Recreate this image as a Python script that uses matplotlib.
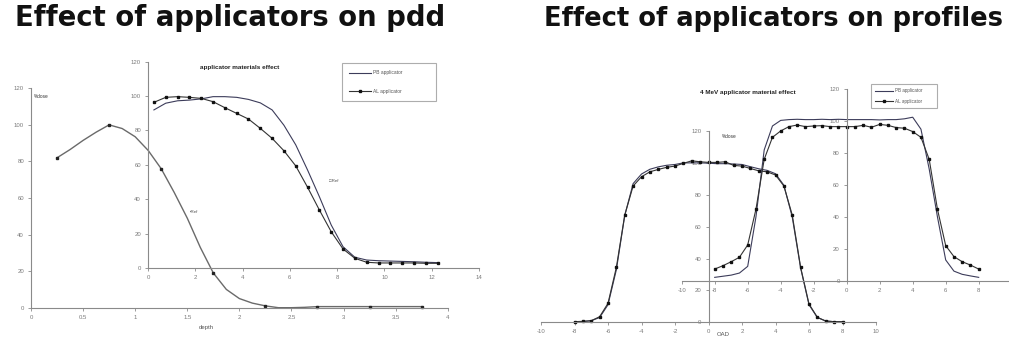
import matplotlib
matplotlib.use("Agg")
import matplotlib.pyplot as plt
from matplotlib.ticker import MultipleLocator, FuncFormatter

# ---------------- data ----------------
# back pdd chart (depth 0-4)
pdd_back_depth = [0.25, 0.375, 0.5, 0.625, 0.75, 0.875, 1.0, 1.125, 1.25, 1.375, 1.5,
                  1.625, 1.75, 1.875, 2.0, 2.125, 2.25, 2.375, 2.5, 2.625, 2.75, 3.0,
                  3.25, 3.5, 3.75]
pdd_back_dose = [82, 86.5, 91.5, 96, 100, 98, 93.5, 86, 76, 63, 49,
                 33, 19, 10, 5, 2.5, 1, 0, 0, 0.2, 0.6, 0.6,
                 0.6, 0.6, 0.6]
pdd_back_marker_idx = [0, 4, 8, 12, 16, 20, 22, 24]

# front pdd chart "applicator materials effect"
pdd_depth = [0.25, 0.75, 1.25, 1.75, 2.25, 2.75, 3.25, 3.75, 4.25, 4.75, 5.25, 5.75,
             6.25, 6.75, 7.25, 7.75, 8.25, 8.75, 9.25, 9.75, 10.25, 10.75, 11.25,
             11.75, 12.25]
pdd_pb = [91.9, 95.8, 97.2, 97.6, 98.3, 99.6, 99.6, 99.2, 98.0, 96.0, 91.9, 83.0,
          71.6, 57.0, 41.5, 25.1, 12.5, 6.4, 4.8, 4.4, 4.2, 4.0, 3.8, 3.5, 3.3]
pdd_al = [96.3, 99.2, 99.6, 99.2, 98.6, 96.7, 93.2, 89.9, 86.6, 81.2, 75.4, 68.2,
          59.4, 47.0, 33.8, 21.2, 11.2, 5.8, 3.5, 3.1, 3.1, 3.1, 3.1, 2.9, 2.9]

# profiles
oad = [-8, -7.5, -7, -6.5, -6, -5.5, -5, -4.5, -4, -3.5, -3, -2.5, -2, -1.5, -1, -0.5,
       0, 0.5, 1, 1.5, 2, 2.5, 3, 3.5, 4, 4.5, 5, 5.5, 6, 6.5, 7, 7.5, 8]
prof_back_al = [0.4, 0.6, 1.0, 3.5, 11.9, 34.5, 67.3, 85.5, 91.3, 94.4, 95.9, 97.2, 98.0,
                99.7, 101.3, 100.7, 100.3, 100.3, 100.7, 98.4, 98.0, 96.5, 95.0, 94.4,
                92.4, 85.5, 67.3, 34.5, 11.5, 3.1, 0.8, 0.4, 0.4]
prof_back_pb = [0.3, 0.5, 1.0, 3.0, 11.0, 33.0, 67.0, 87.0, 93.0, 96.0, 97.5, 98.5, 99.0,
                100.0, 100.0, 100.0, 99.8, 99.5, 99.5, 99.3, 99.0, 97.6, 96.3, 95.3,
                93.2, 86.0, 66.0, 34.0, 11.0, 3.0, 0.8, 0.4, 0.4]
prof_front_al = [7.3, 9.4, 11.9, 14.7, 22.4, 44.8, 76.1, 89.9, 93.9, 96.6, 97.6, 96.6, 97.0,
                 97.2, 96.6, 96.6, 96.6, 96.6, 97.4, 96.2, 98.0, 97.4, 96.0, 95.6, 93.5,
                 89.9, 76.1, 44.8, 22.0, 15.1, 11.9, 9.8, 7.3]
prof_front_pb = [2.1, 2.8, 3.5, 4.8, 9.0, 40.0, 82.0, 97.0, 100.5, 101.0, 101.2, 101.0, 101.0,
                 101.2, 101.0, 101.2, 101.0, 101.0, 101.0, 101.0, 100.8, 101.0, 101.0, 101.5,
                 102.5, 95.0, 70.0, 40.0, 13.0, 6.0, 4.0, 3.0, 2.1]

series_labels = ["PB applicator", "AL applicator"]

# ---------------- figure ----------------
W, H = 1009, 338
fig = plt.figure(figsize=(W / 100, H / 100), dpi=100)
fig.patch.set_facecolor("white")

SMALL = ["Liberation Sans", "DejaVu Sans"]
AXC = "#8a8a8a"
LBL = "#7a7a7a"
PB_C = "#3c3c5a"
AL_C = "#333333"


def add_ax(x0, x1, ytop, ybot):
    return fig.add_axes([x0 / W, 1 - ybot / H, (x1 - x0) / W, (ybot - ytop) / H])


def style(ax, xlim, ylim, xstep, center=False, hide_x=()):
    ax.set_xlim(*xlim)
    ax.set_ylim(*ylim)
    ax.patch.set_alpha(0)
    for s in ("top", "right"):
        ax.spines[s].set_visible(False)
    for s in ("left", "bottom"):
        ax.spines[s].set_color(AXC)
        ax.spines[s].set_linewidth(0.8)
    if center:
        ax.spines["left"].set_position(("data", 0))
    ax.xaxis.set_major_locator(MultipleLocator(xstep))
    ax.yaxis.set_major_locator(MultipleLocator(20))
    ax.xaxis.set_major_formatter(
        FuncFormatter(lambda v, p: "" if round(v, 3) in hide_x else "%g" % v))
    ax.tick_params(direction="out", length=2.5, width=0.6, color=AXC,
                   labelsize=4.3, labelcolor=LBL, pad=2.5)
    for t in ax.get_xticklabels() + ax.get_yticklabels():
        t.set_family(SMALL)


# ---------- back pdd ----------
ax1 = add_ax(31, 447.7, 88.3, 307.7)
style(ax1, (0, 4), (0, 120), 0.5)
ax1.plot(pdd_back_depth, pdd_back_dose, color="#6a6a6a", lw=1.0,
         marker="s", ms=1.8, mfc="#222222", mec="#222222",
         markevery=pdd_back_marker_idx, clip_on=False)
fig.text(34 / W, 1 - 96 / H, "%dose", fontsize=3.4, family=SMALL,
         color="#333333", va="center", ha="left")
fig.text(206.7 / W, 1 - 327.7 / H, "depth", fontsize=4.3, family=SMALL,
         color="#555555", ha="center", va="center")
fig.text(190 / W, 1 - 211.7 / H, "\u25aaRef", fontsize=3.2, family=SMALL,
         color="#555555", ha="left", va="center")

# ---------- front pdd ----------
ax2 = add_ax(148, 479, 61.5, 268.3)
style(ax2, (0, 14), (0, 120), 2)
l1, = ax2.plot(pdd_depth, pdd_pb, color=PB_C, lw=0.8, clip_on=False)
l2, = ax2.plot(pdd_depth, pdd_al, color=AL_C, lw=0.8, marker="s", ms=1.8,
               mfc="#111111", mec="#111111", clip_on=False)
fig.text(239.5 / W, 1 - 67.3 / H, "applicator materials effect", fontsize=4.6,
         family=SMALL, weight="bold", color="#222222", ha="center", va="center")
fig.text(329 / W, 1 - 180.7 / H, "\u25a1Ref", fontsize=3.2, family=SMALL,
         color="#555555", ha="left", va="center")
leg = ax2.legend([l1, l2], series_labels, loc="upper left",
                 bbox_to_anchor=(341.7 / W, 1 - 62.7 / H, 94.3 / W, 0.0),
                 bbox_transform=fig.transFigure, mode="expand",
                 prop={"family": SMALL, "size": 3.5}, frameon=True, fancybox=False,
                 edgecolor="#999999", borderpad=1.6, labelspacing=2.7,
                 handlelength=4.5, handletextpad=0.3, borderaxespad=0)
leg.get_frame().set_linewidth(0.8)
for t in leg.get_texts():
    t.set_color("#555555")

# ---------- back profile ----------
ax3 = add_ax(541, 876, 131, 322.3)
style(ax3, (-10, 10), (0, 120), 2, center=True)
ax3.plot(oad, prof_back_pb, color=PB_C, lw=0.8, clip_on=False)
ax3.plot(oad, prof_back_al, color=AL_C, lw=0.8, marker="s", ms=1.8,
         mfc="#111111", mec="#111111", clip_on=False)
fig.text(721.7 / W, 1 - 136 / H, "%dose", fontsize=3.4, family=SMALL,
         color="#333333", ha="left", va="center")
fig.text(716.7 / W, 1 - 334.3 / H, "OAD", fontsize=4.3, family=SMALL,
         color="#555555", ha="left", va="center")

# ---------- front profile ----------
ax4 = add_ax(681.7, 1011.7, 89.3, 280.7)
style(ax4, (-10, 10), (0, 120), 2, center=True, hide_x=(10,))
m1, = ax4.plot(oad, prof_front_pb, color=PB_C, lw=0.8, clip_on=False)
m2, = ax4.plot(oad, prof_front_al, color=AL_C, lw=0.8, marker="s", ms=1.8,
               mfc="#111111", mec="#111111", clip_on=False)
fig.text(747.5 / W, 1 - 92.3 / H, "4 MeV applicator material effect", fontsize=4.6,
         family=SMALL, weight="bold", color="#222222", ha="center", va="center")
leg2 = ax4.legend([m1, m2], series_labels, loc="upper left",
                  bbox_to_anchor=(870.7 / W, 1 - 84 / H, 66.6 / W, 0.0),
                  bbox_transform=fig.transFigure, mode="expand",
                  prop={"family": SMALL, "size": 3.3}, frameon=True, fancybox=False,
                  edgecolor="#999999", borderpad=0.9, labelspacing=1.2,
                  handlelength=4.0, handletextpad=0.3, borderaxespad=0)
leg2.get_frame().set_linewidth(0.8)
for t in leg2.get_texts():
    t.set_color("#555555")

# ---------- titles ----------
TFONT = ["DejaVu Sans"]
fig.text(230 / W, 1 - 26 / H, "Effect of applicators on pdd", fontsize=19.8,
         family=TFONT, weight="bold", color="#111111",
         ha="center", va="baseline")
fig.text(773 / W, 1 - 26 / H, "Effect of applicators on profiles", fontsize=18.5,
         family=TFONT, weight="bold", color="#111111",
         ha="center", va="baseline")

fig.savefig("out.png", dpi=100, facecolor="white")
